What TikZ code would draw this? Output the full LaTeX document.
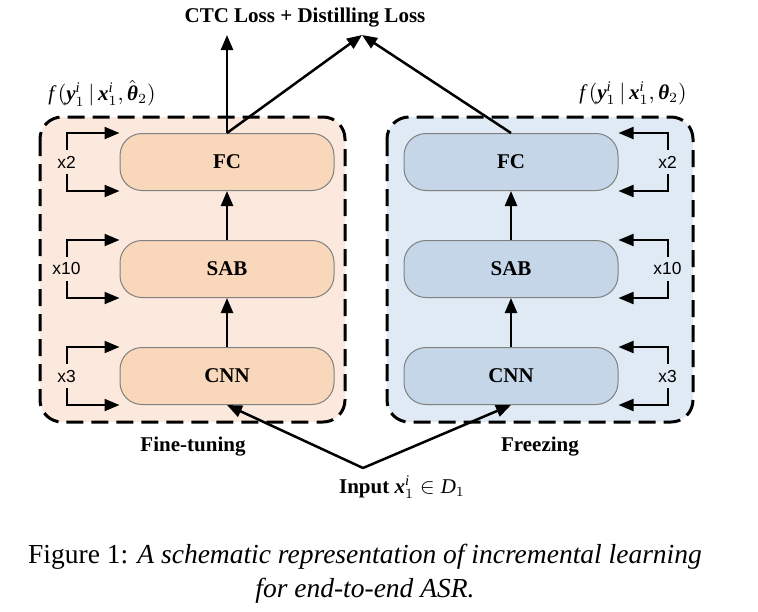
\documentclass[tikz,border=0pt]{standalone}
\usepackage{amsmath}
\usepackage{fontspec}
\setmainfont{Liberation Serif}
\newfontfamily\cntfont{Liberation Sans}
\usetikzlibrary{arrows.meta,positioning}
\definecolor{peachbg}{RGB}{251,233,221}
\definecolor{peachbox}{RGB}{248,215,186}
\definecolor{bluebg}{RGB}{223,234,244}
\definecolor{bluebox}{RGB}{196,214,232}
\newcommand{\bvar}[1]{\mbox{\bfseries\itshape #1}}

\begin{document}
\begin{tikzpicture}[>={Triangle[length=7.5pt,width=6pt]},line width=1.25pt,node distance=24.5pt,
  layerbox/.style={draw=gray,line width=0.5pt,rounded corners=11pt,minimum width=107pt,minimum height=28.5pt,font=\fontsize{10.5}{12.6}\selectfont\bfseries},
  grp/.style={dash pattern=on 8.5pt off 4pt,line width=1.5pt,rounded corners=11pt},
  cnt/.style={font=\cntfont\fontsize{8.7}{10}\selectfont,inner sep=2.5pt},
  loop/.style={->,line width=1pt},
  txt/.style={font=\fontsize{10.5}{12.6}\selectfont},
  btxt/.style={font=\fontsize{10.5}{12.6}\selectfont\bfseries}]
  \useasboundingbox (0,0) rectangle (379pt,-305.5pt);
  % the two groups
  \draw[grp,fill=peachbg] (20pt,-58.5pt) rectangle (172.5pt,-211pt);
  \draw[grp,fill=bluebg] (193.5pt,-58.5pt) rectangle (346.5pt,-211pt);

  \node[layerbox,fill=peachbox] (fc1) at (113.5pt,-81pt) {FC};
  \node[layerbox,fill=peachbox] (sab1) [below=of fc1] {SAB};
  \node[layerbox,fill=peachbox] (cnn1) [below=of sab1] {CNN};
  \node[layerbox,fill=bluebox]  (fc2) [right=34.5pt of fc1] {FC};
  \node[layerbox,fill=bluebox]  (sab2) [below=of fc2] {SAB};
  \node[layerbox,fill=bluebox]  (cnn2) [below=of sab2] {CNN};

  % repeat counts
  \node[cnt] (r1) at ([xshift=-26.5pt]fc1.west) {x2};
  \node[cnt] (r2) at ([xshift=-26.5pt]sab1.west) {x10};
  \node[cnt] (r3) at ([xshift=-26.5pt]cnn1.west) {x3};
  \node[cnt] (r4) at ([xshift=24.5pt]fc2.east) {x2};
  \node[cnt] (r5) at ([xshift=24.5pt]sab2.east) {x10};
  \node[cnt] (r6) at ([xshift=24.5pt]cnn2.east) {x3};
  \draw[loop] (r1.north) |- (fc1.north west);
  \draw[loop] (r1.south) |- (fc1.south west);
  \draw[loop] (r2.north) |- (sab1.north west);
  \draw[loop] (r2.south) |- (sab1.south west);
  \draw[loop] (r3.north) |- (cnn1.north west);
  \draw[loop] (r3.south) |- (cnn1.south west);
  \draw[loop] (r4.north) |- (fc2.north east);
  \draw[loop] (r4.south) |- (fc2.south east);
  \draw[loop] (r5.north) |- (sab2.north east);
  \draw[loop] (r5.south) |- (sab2.south east);
  \draw[loop] (r6.north) |- (cnn2.north east);
  \draw[loop] (r6.south) |- (cnn2.south east);

  \node[btxt] (loss) at (152.5pt,-9pt) {CTC Loss + Distilling Loss};
  \coordinate (ctc) at ([yshift=49pt]fc1.north);
  \coordinate (dst) at (181pt,-17.5pt);
  \node[txt] (f1) at (51pt,-46.5pt) {$\mathit{f}\,(\bvar{y}_1^{\mathit{i}} \,|\, \bvar{x}_1^{\mathit{i}}, \hat{\bvar{θ}}_2)$};
  \node[txt] (f2) at (316.5pt,-46.5pt) {$\mathit{f}\,(\bvar{y}_1^{\mathit{i}} \,|\, \bvar{x}_1^{\mathit{i}}, \bvar{θ}_2)$};
  \node[btxt] (ft) at (96.5pt,-223.5pt) {Fine-tuning};
  \node[btxt] (fz) at (270pt,-223.5pt) {Freezing};
  \node[txt] (input) at (201pt,-243.5pt) {\textbf{Input} $\bvar{x}_1^{\mathit{i}} \in \mathit{D}_1$};
  \coordinate (inp) at (181.5pt,-234pt);

  \path[->] (cnn1) edge (sab1)
            (sab1) edge (fc1)
            (cnn2) edge (sab2)
            (sab2) edge (fc2)
            (fc1.north) edge (ctc)
                        edge (dst)
            (fc2.north) edge (dst)
            (inp) edge (cnn1.south)
                  edge (cnn2.south);

  \node[align=center,font=\fontsize{13.75}{17}\selectfont] (cap) at (182.5pt,-287pt)
    {Figure 1: \textit{A schematic representation of incremental learning}\\ \textit{for end-to-end ASR.}};
\end{tikzpicture}
\end{document}
